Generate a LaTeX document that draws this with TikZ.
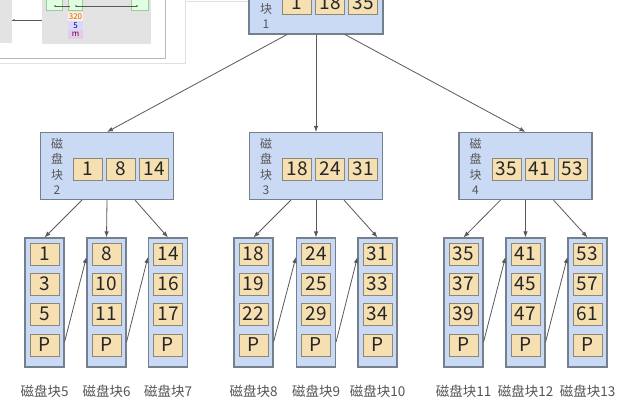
\documentclass[tikz,border=0pt]{standalone}
\usepackage{fontspec}
\setmainfont{Noto Sans CJK SC}
\usepackage{tikz}
\usetikzlibrary{arrows.meta}
\definecolor{blockblue}{HTML}{CADAF5}
\definecolor{keyfill}{HTML}{F6E0B1}
\definecolor{edgegray}{HTML}{75808E}
\definecolor{keyedge}{HTML}{8C8878}
\definecolor{textgray}{HTML}{555555}
\tikzset{
  block/.style={draw=edgegray, fill=blockblue, line width=1.1pt, inner sep=0pt},
  keybox/.style={draw=keyedge, fill=keyfill, line width=0.9pt, minimum width=29pt,
    minimum height=22pt, inner sep=0pt, text=black!85, font=\fontsize{19}{19}\selectfont},
  vlabel/.style={align=center, text=textgray, inner sep=0pt, font=\fontsize{12}{15.5}\selectfont},
  caption/.style={text=textgray, inner sep=0pt, font=\fontsize{13.5}{14}\selectfont},
  link/.style={draw=black!65, line width=0.8pt, -{Latex[length=6pt,width=4.5pt]}},
}

\begin{document}
\begin{tikzpicture}[x=1pt,y=-1pt]
            \clip (0,0) rectangle (640,405);
            \fill[white] (0,0) rectangle (640,405);
            % thumbnail of another window (top left)
            \draw[gray!25] (118,1.5) -- (248,1.5);
            \filldraw[fill=white, draw=gray!25] (-2,-2) rectangle (185,63);
            \filldraw[fill=white, draw=gray!55] (-2,-2) rectangle (165,58);
            \fill[gray!22] (-2,-2) rectangle (12,43);
            \fill[gray!22] (42,-2) rectangle (151,44);
            \filldraw[fill=green!12, draw=green!35!gray!60] (46,-2) rectangle (62,10);
            \filldraw[fill=green!12, draw=green!35!gray!60] (68,-2) rectangle (82,10);
            \filldraw[fill=green!12, draw=green!35!gray!60] (131,-2) rectangle (148,10);
            \draw[gray!70!black, thin] (55,6) -- (70,6);
            \draw[gray!70!black, thin] (76,6) -- (137,6);
            \draw[gray!70!black, thin] (12,20) -- (42,20);
            \fill[black!70] (55,6) circle (0.9) (76,6) circle (0.9) (137,6) circle (0.9) (14,20) circle (0.9);
            \fill[orange!12] (68,12) rectangle (83,21);
            \fill[blue!15] (68,21) rectangle (83,30);
            \fill[violet!20] (68,30) rectangle (83,39);
            \node[inner sep=0pt, text=orange!80!black, font=\fontsize{8}{8}\selectfont] (thumbA) at (75.5,16.5) {320};
            \node[inner sep=0pt, text=blue!60!black, font=\fontsize{8}{8}\selectfont] (thumbB) at (75.5,25.5) {5};
            \node[inner sep=0pt, text=violet!70!black, font=\fontsize{8}{8}\selectfont] (thumbC) at (75.5,34) {m};
            % root block
            \node[block, minimum width=134pt, minimum height=67pt] (root) at (316,0.5) {};
            \node[vlabel] (rootlabel) at (266,0.5) {磁\\盘\\块\\1};
            \node[keybox] (root-k1) at (297,3) {1};
            \node[keybox] (root-k2) at (330,3) {18};
            \node[keybox] (root-k3) at (363,3) {35};
            % middle blocks
            \foreach \g/\cx/\ka/\kb/\kc in {2/107/1/8/14, 3/316/18/24/31, 4/525.5/35/41/53}{
              \node[block, minimum width=133pt, minimum height=67pt] (m\g) at (\cx,166) {};
              \node[vlabel] (m\g-label) at (\cx-50,166.5) {磁\\盘\\块\\\g};
              \node[keybox] (m\g-k1) at (\cx-19,169) {\ka};
              \node[keybox] (m\g-k2) at (\cx+14,169) {\kb};
              \node[keybox] (m\g-k3) at (\cx+47,169) {\kc};
            }
            % leaf blocks
            \foreach \n/\cx/\a/\b/\c in {5/44.5/1/3/5, 6/106.5/8/10/11, 7/168/14/16/17,
                8/253.5/18/19/22, 9/316/24/25/29, 10/377.5/31/33/34,
                11/463.5/35/37/39, 12/525.5/41/45/47, 13/587.5/53/57/61}{
              \node[block, minimum width=39pt, minimum height=129pt] (l\n) at (\cx,302.5) {};
              \node[keybox] (l\n-k1) at (\cx,254) {\a};
              \node[keybox] (l\n-k2) at (\cx,284) {\b};
              \node[keybox] (l\n-k3) at (\cx,314) {\c};
              \node[keybox] (l\n-p) at (\cx,345) {P};
              \node[caption] (l\n-name) at (\cx,391) {磁盘块\n};
            }
            % root to middle
            \draw[link] ([xshift=-29pt]root.south) -- (m2.north);
            \draw[link] (root.south) -- (m3.north);
            \draw[link] ([xshift=29pt]root.south) -- (m4.north);
            % middle to leaves
            \draw[link] ([xshift=-25pt]m2.south) -- (l5.north);
            \draw[link] (m2.south) -- (l6.north);
            \draw[link] ([xshift=28pt]m2.south) -- (l7.north);
            \draw[link] ([xshift=-25pt]m3.south) -- (l8.north);
            \draw[link] (m3.south) -- (l9.north);
            \draw[link] ([xshift=28pt]m3.south) -- (l10.north);
            \draw[link] ([xshift=-25pt]m4.south) -- (l11.north);
            \draw[link] (m4.south) -- (l12.north);
            \draw[link] ([xshift=28pt]m4.south) -- (l13.north);
            % leaf pointers
            \foreach \a/\b in {5/6, 6/7, 8/9, 9/10, 11/12, 12/13}
              \draw[link] ([yshift=3pt]l\a.east |- l\a-p) -- ([yshift=-3pt]l\b.west |- l\b-k1);
        \end{tikzpicture}
\end{document}
